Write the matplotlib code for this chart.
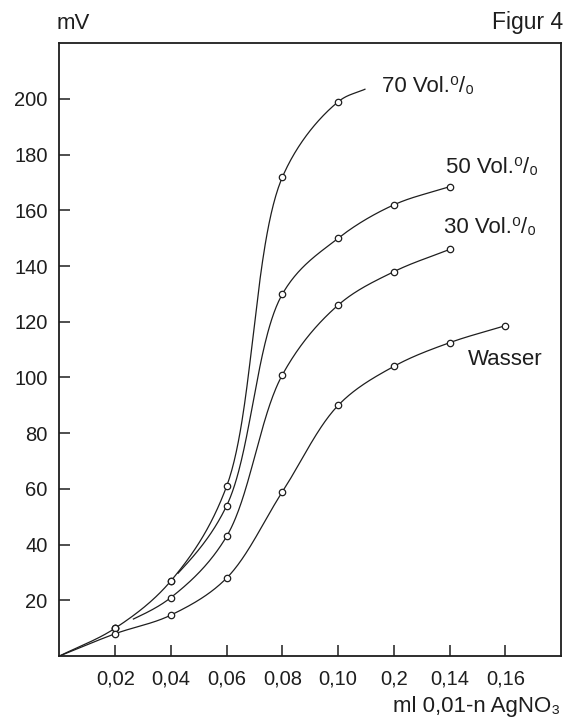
import numpy as np
import matplotlib
matplotlib.use('Agg')
import matplotlib.pyplot as plt

# tick positions along x are equally spaced in the original, labels as printed
x_labels = ['0,02', '0,04', '0,06', '0,08', '0,10', '0,2', '0,14', '0,16']
x_ticks = [1, 2, 3, 4, 5, 6, 7, 8]

# readings (x as tick index, y in mV)
vol70_x = [0, 1, 2, 3, 4, 5, 5.48]
vol70_y = [0, 10, 27, 61, 172, 199, 203.5]
vol70_start = 0

vol50_x = [1, 2, 3, 4, 5, 6, 7]
vol50_y = [10, 27, 54, 130, 150, 162, 168.5]
vol50_start = 2.12

vol30_x = [1, 2, 3, 4, 5, 6, 7]
vol30_y = [10, 21, 43, 101, 126, 138, 146]
vol30_start = 1.31

wasser_x = [0, 1, 2, 3, 4, 5, 6, 7, 8]
wasser_y = [0, 8, 14.7, 28, 59, 90, 104, 112.5, 118.6]
wasser_start = 0

labels = ['70 Vol.⁰/₀', '50 Vol.⁰/₀', '30 Vol.⁰/₀', 'Wasser']
label_x = [5.79, 6.94, 6.90, 7.32]
label_y = [204.3, 175.5, 154, 106.5]

INK = '#1e1e1e'
FONT = ['Liberation Sans', 'DejaVu Sans']
plt.rcParams['font.family'] = FONT

# y scale relative to x on screen (px per mV / px per tick step)
ASPECT = 2.78 / 55.7


def smooth(x, y, n=60):
    # centripetal catmull-rom through the readings, drawn in screen-like units
    # so it bends the way a french curve would
    P = np.column_stack([np.asarray(x, float), np.asarray(y, float) * ASPECT])
    P = np.vstack([2*P[0] - P[1], P, 2*P[-1] - P[-2]])
    out = []
    for i in range(1, len(P) - 2):
        p0, p1, p2, p3 = P[i-1], P[i], P[i+1], P[i+2]
        t0 = 0.0
        t1 = t0 + np.linalg.norm(p1 - p0) ** 0.5
        t2 = t1 + np.linalg.norm(p2 - p1) ** 0.5
        t3 = t2 + np.linalg.norm(p3 - p2) ** 0.5
        t = np.linspace(t1, t2, n)[:, None]
        a1 = (t1 - t)/(t1 - t0)*p0 + (t - t0)/(t1 - t0)*p1
        a2 = (t2 - t)/(t2 - t1)*p1 + (t - t1)/(t2 - t1)*p2
        a3 = (t3 - t)/(t3 - t2)*p2 + (t - t2)/(t3 - t2)*p3
        b1 = (t2 - t)/(t2 - t0)*a1 + (t - t0)/(t2 - t0)*a2
        b2 = (t3 - t)/(t3 - t1)*a2 + (t - t1)/(t3 - t1)*a3
        c = (t2 - t)/(t2 - t1)*b1 + (t - t1)/(t2 - t1)*b2
        out.append(c)
    c = np.vstack(out)
    return c[:, 0], c[:, 1] / ASPECT


fig = plt.figure(figsize=(5.72, 7.2), dpi=100)
ax = fig.add_axes([0.104, 0.0889, 0.877, 0.851])

series = [
    (vol70_x, vol70_y, vol70_start),
    (vol50_x, vol50_y, vol50_start),
    (vol30_x, vol30_y, vol30_start),
    (wasser_x, wasser_y, wasser_start),
]

for xs_, ys_, start in series:
    cx, cy = smooth(xs_, ys_)
    keep = cx >= start
    ax.plot(cx[keep], cy[keep], color=INK, lw=0.9, zorder=2)
    xa = np.asarray(xs_, float)
    ya = np.asarray(ys_, float)
    mark = np.isclose(xa, np.round(xa)) & (xa > 0)
    ax.plot(xa[mark], ya[mark], 'o', ms=4.6, mfc='white', mec=INK, mew=0.9, zorder=3)

for txt, tx, ty in zip(labels, label_x, label_y):
    ax.text(tx, ty, txt, fontsize=16, color=INK, ha='left', va='center', family=FONT)

ax.set_xlim(0, 9)
ax.set_ylim(0, 220)
ax.set_xticks(x_ticks)
ax.set_xticklabels(x_labels)
ax.set_yticks(range(20, 201, 20))
ax.tick_params(direction='in', length=8, width=1.1, colors=INK, labelsize=14.5)
ax.tick_params(axis='y', pad=8.5)
ax.tick_params(axis='x', pad=10)
for s in ax.spines.values():
    s.set_linewidth(1.3)
    s.set_color(INK)

fig.text(57/572, 1 - 29/720, 'mV', fontsize=16, color=INK, ha='left', va='baseline')
fig.text(563/572, 1 - 29/720, 'Figur 4', fontsize=16.5, color=INK, ha='right', va='baseline')
fig.text(560/572, 1 - 712/720, 'ml 0,01-n AgNO₃', fontsize=16, color=INK, ha='right', va='baseline')

fig.savefig('out.png', dpi=100)
